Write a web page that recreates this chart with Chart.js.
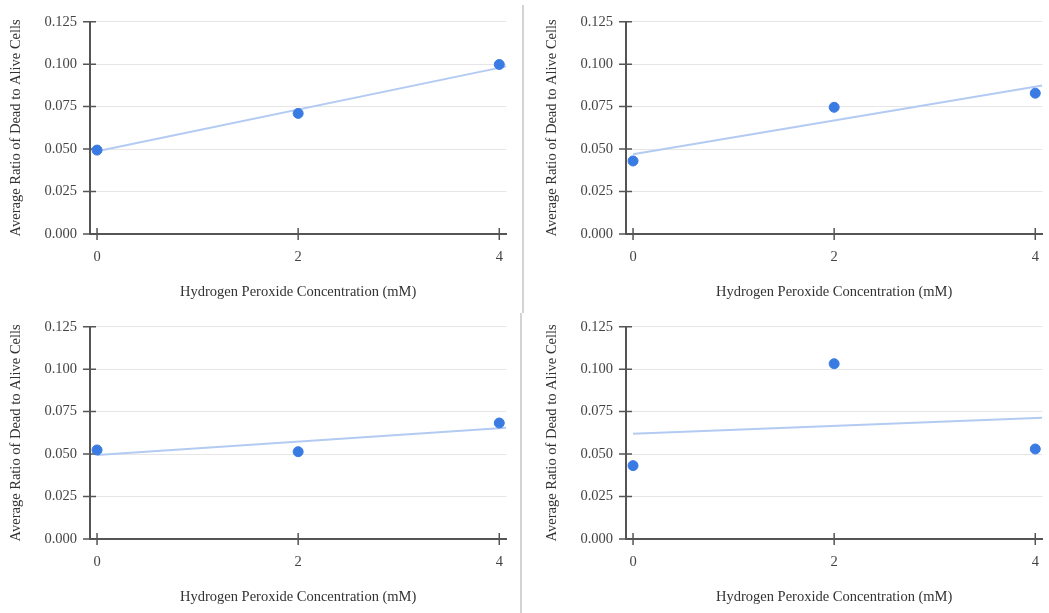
<!DOCTYPE html>
<html>
<head>
<meta charset="utf-8">
<script src="https://cdn.jsdelivr.net/npm/chart.js@4.4.1/dist/chart.umd.min.js"></script>
<style>
    body { margin: 0; background: #fff; width: 1049px; height: 613px; position: relative; overflow: hidden; }
    .paneel { position: absolute; width: 517px; height: 305px; }
    .scheiding { position: absolute; width: 2px; background: #d4d4d4; }
</style>
</head>
<body>
<div class="paneel" style="left:0;top:0"><canvas id="grafiek1"></canvas></div>
<div class="paneel" style="left:536px;top:0"><canvas id="grafiek2"></canvas></div>
<div class="paneel" style="left:0;top:305px"><canvas id="grafiek3"></canvas></div>
<div class="paneel" style="left:536px;top:305px"><canvas id="grafiek4"></canvas></div>
<div class="scheiding" style="left:522px;top:5px;height:308px"></div>
<div class="scheiding" style="left:520px;top:313px;height:300px"></div>
<script>
const concentraties = [0, 2, 4];
const xTicks = [0, 2, 4];
const yTicks = [0, 0.025, 0.05, 0.075, 0.1, 0.125];

// gemiddelde ratio dood/levend per paneel
const ratioPaneel1 = [0.0494, 0.0710, 0.0998];
const ratioPaneel2 = [0.0430, 0.0746, 0.0829];
const ratioPaneel3 = [0.0524, 0.0514, 0.0683];
const ratioPaneel4 = [0.0432, 0.1032, 0.0530];

// trendlijn: waarde bij 0 mM en aan de rechterrand van de grafiek
const trendBegin = [0.0487, 0.0469, 0.0495, 0.0619];
const trendEinde = [0.0987, 0.0874, 0.0655, 0.0714];

const xMin = -0.07;
const xMax = 4.07;

const panelen = [
    { id: 'grafiek1', ratio: ratioPaneel1, trend: 0 },
    { id: 'grafiek2', ratio: ratioPaneel2, trend: 1 },
    { id: 'grafiek3', ratio: ratioPaneel3, trend: 2 },
    { id: 'grafiek4', ratio: ratioPaneel4, trend: 3 }
];

const tekstKleur = '#444';
const lettertype = "'Liberation Serif', 'DejaVu Serif', serif";

// streepjes die over de assen heen lopen
const asStreepjes = {
    id: 'asStreepjes',
    beforeDatasetsDraw(chart) {
        const ctx = chart.ctx;
        const x = chart.scales.x;
        const y = chart.scales.y;
        ctx.save();
        ctx.strokeStyle = '#555';
        ctx.lineWidth = 1.5;
        ctx.beginPath();
        y.ticks.forEach(t => {
            const py = y.getPixelForValue(t.value);
            ctx.moveTo(x.left - 7, py);
            ctx.lineTo(x.left + 6, py);
        });
        x.ticks.forEach(t => {
            const px = x.getPixelForValue(t.value);
            ctx.moveTo(px, y.bottom - 6);
            ctx.lineTo(px, y.bottom + 6);
        });
        ctx.stroke();
        ctx.restore();
    }
};

function maakGrafiek(p) {
    const punten = concentraties.map((c, i) => ({ x: c, y: p.ratio[i] }));
    const trend = [
        { x: 0, y: trendBegin[p.trend] },
        { x: xMax, y: trendEinde[p.trend] }
    ];
    const ctx = document.getElementById(p.id).getContext('2d');
    return new Chart(ctx, {
        type: 'scatter',
        data: {
            datasets: [
                {
                    label: 'Ratio',
                    data: punten,
                    backgroundColor: '#3a7be3',
                    borderColor: '#3a7be3',
                    pointRadius: 5,
                    pointHoverRadius: 5
                },
                {
                    label: 'Trend',
                    data: trend,
                    showLine: true,
                    borderColor: '#b3cbf2',
                    borderWidth: 2,
                    pointRadius: 0,
                    fill: false
                }
            ]
        },
        options: {
            responsive: true,
            maintainAspectRatio: false,
            animation: false,
            layout: { padding: { top: 21, right: 0, left: 0, bottom: 0 } },
            plugins: {
                legend: { display: false },
                tooltip: { enabled: false }
            },
            scales: {
                x: {
                    type: 'linear',
                    min: xMin,
                    max: xMax,
                    afterBuildTicks: s => { s.ticks = xTicks.map(v => ({ value: v })); },
                    afterFit: s => { s.height = 71; },
                    grid: { display: false, drawTicks: false },
                    border: { display: true, color: '#555', width: 2 },
                    ticks: {
                        padding: 14,
                        color: tekstKleur,
                        font: { family: lettertype, size: 14.5 }
                    },
                    title: {
                        display: true,
                        text: 'Hydrogen Peroxide Concentration (mM)',
                        color: '#333',
                        font: { family: lettertype, size: 14.5 },
                        padding: { top: 0, bottom: 4 }
                    }
                },
                y: {
                    min: 0,
                    max: 0.125,
                    afterBuildTicks: s => { s.ticks = yTicks.map(v => ({ value: v })); },
                    afterFit: s => { s.width = 90; },
                    grid: { color: '#e6e6e6', lineWidth: 1, drawTicks: false },
                    border: { display: true, color: '#555', width: 2 },
                    ticks: {
                        padding: 13,
                        color: tekstKleur,
                        font: { family: lettertype, size: 14.5 },
                        callback: v => v.toFixed(3)
                    },
                    title: {
                        display: true,
                        text: 'Average Ratio of Dead to Alive Cells',
                        color: '#333',
                        font: { family: lettertype, size: 14.5 },
                        padding: { top: 7, bottom: 0 }
                    }
                }
            }
        },
        plugins: [asStreepjes]
    });
}

panelen.forEach(maakGrafiek);
</script>
</body>
</html>
